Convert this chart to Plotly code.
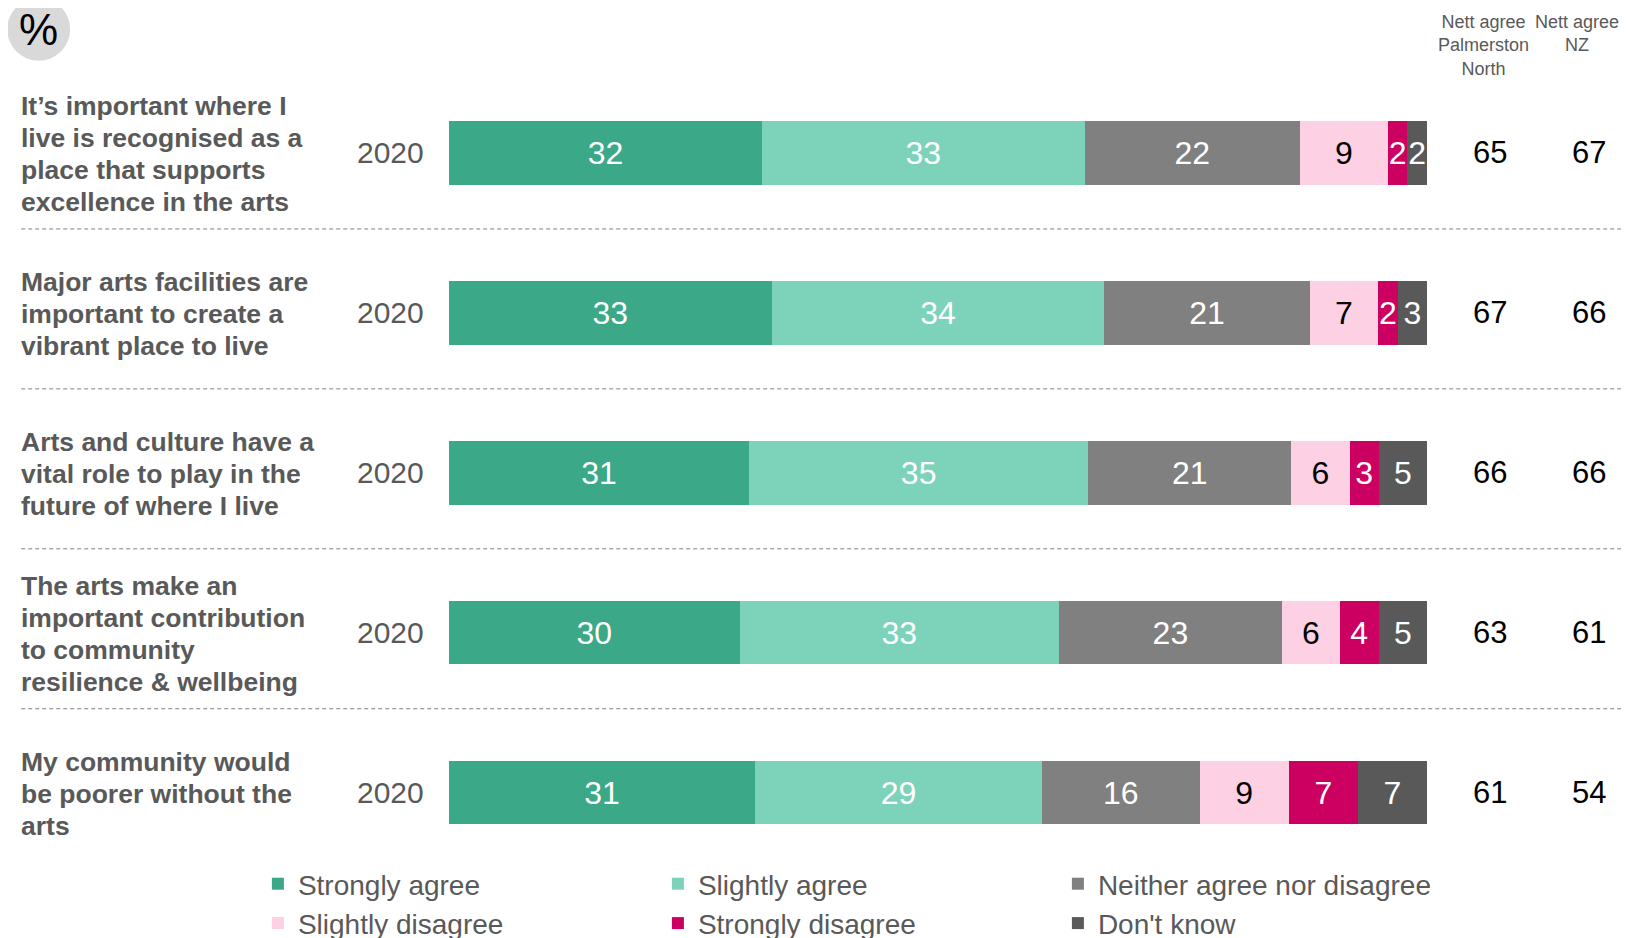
import plotly.graph_objects as go

# ---------------- data ----------------
statements = [
    "It’s important where I<br>live is recognised as a<br>place that supports<br>excellence in the arts",
    "Major arts facilities are<br>important to create a<br>vibrant place to live",
    "Arts and culture have a<br>vital role to play in the<br>future of where I live",
    "The arts make an<br>important contribution<br>to community<br>resilience & wellbeing",
    "My community would<br>be poorer without the<br>arts",
]
years = ["2020", "2020", "2020", "2020", "2020"]
series_names = ["Strongly agree", "Slightly agree", "Neither agree nor disagree",
                "Slightly disagree", "Strongly disagree", "Don't know"]
strongly_agree = [32, 33, 31, 30, 31]
slightly_agree = [33, 34, 35, 33, 29]
neither = [22, 21, 21, 23, 16]
slightly_disagree = [9, 7, 6, 6, 9]
strongly_disagree = [2, 2, 3, 4, 7]
dont_know = [2, 3, 5, 5, 7]
nett_agree_pn = [65, 67, 66, 63, 61]
nett_agree_nz = [67, 66, 66, 61, 54]
header_pn = "Nett agree<br>Palmerston<br>North"
header_nz = "Nett agree<br>NZ"

series_values = [strongly_agree, slightly_agree, neither,
                 slightly_disagree, strongly_disagree, dont_know]
colors = ["#3BA887", "#7DD3BA", "#808080", "#FDD0E4", "#CC0060", "#595959"]
text_colors = ["white", "white", "white", "black", "white", "white"]

# ---------------- geometry (layout px; page adds an 8px body margin) ----------------
W, H = 1621, 930
L = 441.0
PW = 978.5
R = W - L - PW
BAR_C0 = 144.7      # centre of first bar (layout px)
ROW = 160.0         # px per category
T = BAR_C0 - ROW * 0.5
PLOT_BOTTOM = 851.0
RANGE_BOTTOM = (PLOT_BOTTOM - BAR_C0) / ROW
B = H - PLOT_BOTTOM
PH = PLOT_BOTTOM - T
FONT = "Liberation Sans, Arial, sans-serif"
GREY = "#595959"


def xp(px):
    return (px - L) / PW


def yp(py):
    return (PLOT_BOTTOM - py) / PH


fig = go.Figure()
for name, vals, col, tcol in zip(series_names, series_values, colors, text_colors):
    fig.add_trace(go.Bar(
        y=statements, x=vals, name=name, orientation="h",
        marker=dict(color=col, line=dict(width=0)),
        text=[str(v) for v in vals], textposition="inside",
        insidetextanchor="middle",
        textfont=dict(color=tcol, size=32, family=FONT),
        hoverinfo="skip",
    ))

annotations = []
LINE_H = 32.0
for i, (s, yr, a, b) in enumerate(zip(statements, years, nett_agree_pn, nett_agree_nz)):
    lines = s.split("<br>")
    n = len(lines)
    for k, ln in enumerate(lines):
        annotations.append(dict(x=xp(10.5), y=s, xref="paper", yref="y", text="<b>" + ln + "</b>",
                                xanchor="left", yanchor="middle", align="left", showarrow=False,
                                yshift=-((k - (n - 1) / 2) * LINE_H + 1),
                                font=dict(size=26.5, color=GREY, family=FONT)))
    annotations.append(dict(x=xp(418), y=s, xref="paper", yref="y", text=yr,
                            xanchor="right", yanchor="middle", showarrow=False,
                            font=dict(size=30, color=GREY, family=FONT)))
    annotations.append(dict(x=xp(1483), y=s, xref="paper", yref="y", text=str(a),
                            xanchor="center", yanchor="middle", showarrow=False,
                            font=dict(size=31, color="black", family=FONT)))
    annotations.append(dict(x=xp(1582), y=s, xref="paper", yref="y", text=str(b),
                            xanchor="center", yanchor="middle", showarrow=False,
                            font=dict(size=31, color="black", family=FONT)))

annotations.append(dict(x=xp(1476), y=yp(2), xref="paper", yref="paper", text=header_pn,
                        xanchor="center", yanchor="top", showarrow=False,
                        font=dict(size=18, color=GREY, family=FONT)))
annotations.append(dict(x=xp(1569.5), y=yp(2), xref="paper", yref="paper", text=header_nz,
                        xanchor="center", yanchor="top", showarrow=False,
                        font=dict(size=18, color=GREY, family=FONT)))
annotations.append(dict(x=xp(30.5), y=yp(21), xref="paper", yref="paper", text="%",
                        xanchor="center", yanchor="middle", showarrow=False, height=40,
                        font=dict(size=44, color="black", family=FONT)))

shapes = [dict(type="circle", xref="paper", yref="paper",
               x0=xp(-1), x1=xp(62), y0=yp(52.5), y1=yp(-10.5),
               fillcolor="#D9D9D9", line=dict(width=0), layer="below")]
for k in range(len(statements) - 1):
    shapes.append(dict(type="line", xref="paper", yref="y",
                       x0=xp(13), x1=xp(W), y0=k + 0.475, y1=k + 0.475,
                       line=dict(color="#808080", width=1, dash="4px,3px")))

fig.update_layout(
    width=W, height=H,
    margin=dict(l=L, r=R, t=T, b=B, autoexpand=False),
    barmode="stack", barnorm="percent", bargap=0.604,
    plot_bgcolor="white", paper_bgcolor="white",
    xaxis=dict(range=[0, 100], visible=False, fixedrange=True),
    yaxis=dict(type="category", range=[RANGE_BOTTOM, -0.5], visible=False, fixedrange=True),
    uniformtext=dict(minsize=32, mode="show"),
    showlegend=True,
    legend=dict(orientation="h", x=xp(249.8), xanchor="left", y=0, yanchor="top",
                traceorder="normal", entrywidth=355, entrywidthmode="pixels",
                font=dict(size=28, color=GREY, family=FONT),
                bgcolor="rgba(0,0,0,0)", itemclick=False, itemdoubleclick=False),
    annotations=annotations,
    shapes=shapes,
    font=dict(family=FONT),
)

fig.write_html("out.html")
